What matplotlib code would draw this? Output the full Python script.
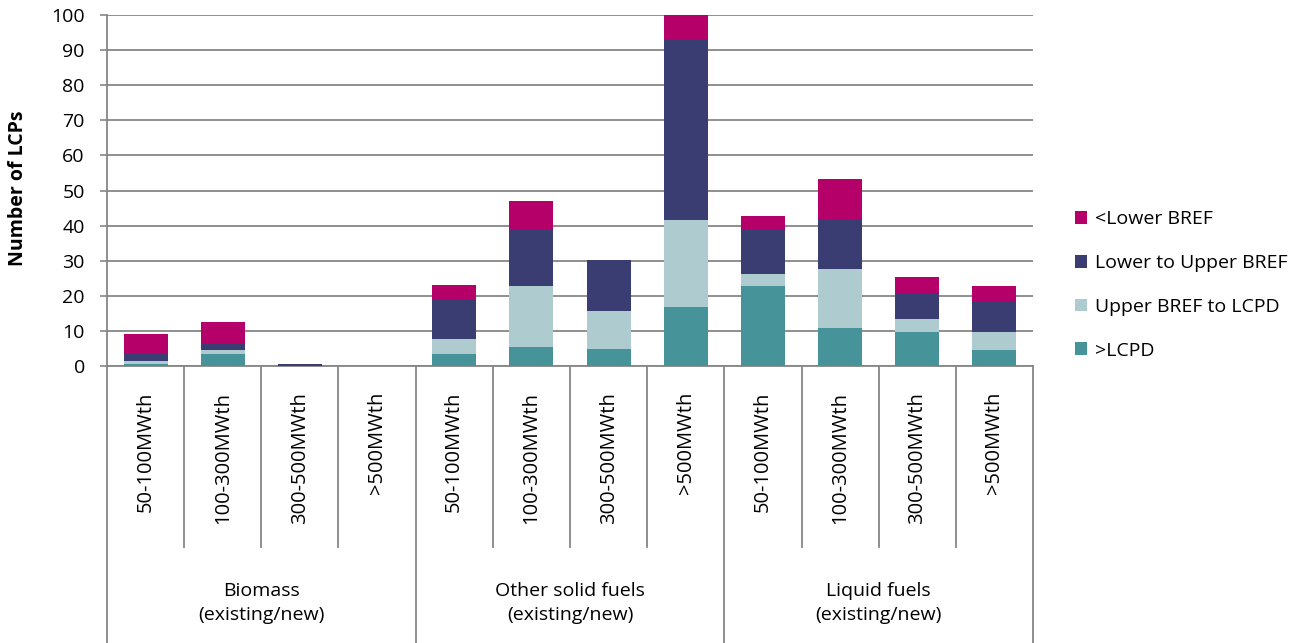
import matplotlib.pyplot as plt
import numpy as np

plt.rcParams["font.family"] = ["Open Sans", "DejaVu Sans"]

SIZES = ["50-100MWth", "100-300MWth", "300-500MWth", ">500MWth"] * 3
GROUPS = ["Biomass\n(existing/new)", "Other solid fuels\n(existing/new)",
          "Liquid fuels\n(existing/new)"]

# stacked from bottom to top
ABOVE_LCPD = [0.5, 3.5, 0, 0, 3.5, 5.5, 4.8, 16.7, 22.9, 10.9, 9.8, 4.7]
UPPER_TO_LCPD = [1.0, 1.1, 0, 0, 4.3, 17.2, 10.9, 24.8, 3.4, 16.6, 3.7, 5.1]
LOWER_TO_UPPER = [2.0, 2.0, 0.7, 0, 11.0, 16.3, 14.4, 51.5, 12.6, 14.0, 7.0, 8.8]
BELOW_LOWER = [5.5, 5.8, 0, 0, 4.2, 8.0, 0, 7.0, 3.7, 11.7, 4.9, 4.3]

SERIES = [
    (">LCPD", ABOVE_LCPD, "#47939a"),
    ("Upper BREF to LCPD", UPPER_TO_LCPD, "#aecbcf"),
    ("Lower to Upper BREF", LOWER_TO_UPPER, "#3a3d72"),
    ("<Lower BREF", BELOW_LOWER, "#b5006a"),
]

GRID = "#868686"
FS = 14


def main():
    fig = plt.figure(figsize=(13.16, 6.43), dpi=100)
    ax = fig.add_axes([107 / 1316, 1 - 366 / 643, 926 / 1316, 351 / 643])

    x = np.arange(len(SIZES))
    bottom = np.zeros(len(SIZES))
    handles = []
    for label, vals, color in SERIES:
        vals = np.array(vals)
        b = ax.bar(x, vals, 0.57, bottom=bottom, color=color, label=label,
                   zorder=3)
        handles.append(b)
        bottom += vals

    ax.set_xlim(-0.5, len(SIZES) - 0.5)
    ax.set_ylim(0, 100)
    ax.set_yticks(range(0, 101, 10))
    ax.tick_params(axis="y", labelsize=FS, length=5, width=1.2, color=GRID,
                   pad=11)
    ax.set_xticks([])
    ax.grid(axis="y", color=GRID, linewidth=1.3, zorder=0)
    for s in ["top", "right"]:
        ax.spines[s].set_visible(False)
    for s in ["left", "bottom"]:
        ax.spines[s].set_color(GRID)
        ax.spines[s].set_linewidth(1.3)

    fig.text(18 / 1316, 1 - 188 / 643, "Number of LCPs", rotation=90,
             ha="center", va="center", fontsize=FS, fontweight="bold")

    # category table under the axis
    tr = ax.get_xaxis_transform()
    inner_bottom = (366 - 547) / 351
    outer_bottom = (366 - 643) / 351
    for i in range(len(SIZES) + 1):
        xs = i - 0.5
        yb = outer_bottom if i % 4 == 0 else inner_bottom
        ax.plot([xs, xs], [0, yb], transform=tr, color=GRID, linewidth=1.3,
                clip_on=False)
    label_top = (366 - 392) / 351
    for i, s in enumerate(SIZES):
        ax.text(i, label_top, s, transform=tr, rotation=90, ha="center",
                va="top", fontsize=FS + 0.5)
    for g, name in enumerate(GROUPS):
        ax.text(g * 4 + 1.5, (366 - 603) / 351, name, transform=tr,
                ha="center", va="center", fontsize=FS, linespacing=1.45)

    fig.legend(handles[::-1], [s[0] for s in SERIES][::-1], loc="upper left",
               bbox_to_anchor=(1057 / 1316, 1 - 193 / 643), frameon=False,
               fontsize=FS, handlelength=0.65, handleheight=0.65,
               handletextpad=0.4, labelspacing=1.32)

    fig.savefig("out.png", dpi=100)


if __name__ == "__main__":
    main()
